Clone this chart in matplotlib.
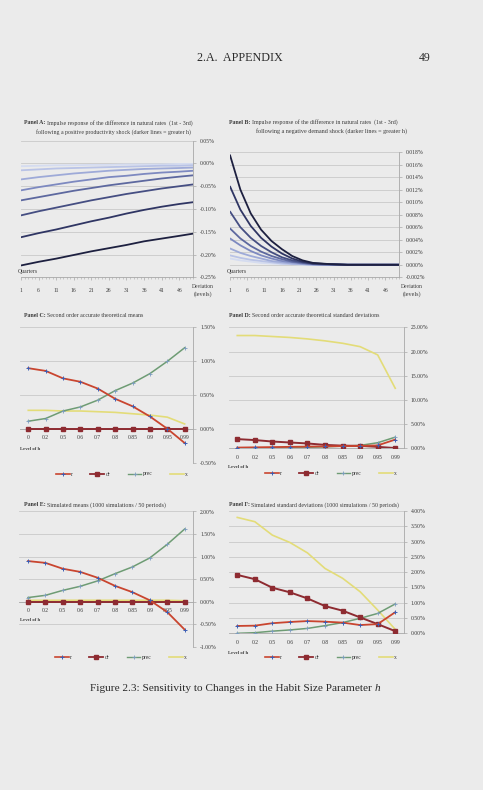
import matplotlib
matplotlib.use('Agg')
import matplotlib.pyplot as plt
from matplotlib.lines import Line2D

# ---------------- data ----------------
A_quarters = [1, 6, 11, 16, 21, 26, 31, 36, 41, 46, 50]
A_h1 = [-0.006, -0.005, -0.004, -0.004, -0.003, -0.003, -0.002, -0.002, -0.002, -0.001, -0.001]
A_h2 = [-0.015, -0.013, -0.011, -0.010, -0.009, -0.008, -0.007, -0.006, -0.005, -0.005, -0.004]
A_h3 = [-0.035, -0.030, -0.026, -0.022, -0.019, -0.016, -0.014, -0.012, -0.011, -0.010, -0.009]
A_h4 = [-0.059, -0.052, -0.046, -0.040, -0.035, -0.030, -0.027, -0.023, -0.020, -0.018, -0.016]
A_h5 = [-0.081, -0.074, -0.067, -0.060, -0.054, -0.048, -0.043, -0.038, -0.033, -0.029, -0.026]
A_h6 = [-0.114, -0.105, -0.097, -0.089, -0.081, -0.074, -0.067, -0.061, -0.055, -0.050, -0.046]
A_h7 = [-0.162, -0.153, -0.145, -0.136, -0.127, -0.119, -0.110, -0.102, -0.095, -0.089, -0.085]
A_h8 = [-0.224, -0.216, -0.209, -0.201, -0.193, -0.186, -0.179, -0.171, -0.165, -0.159, -0.154]

B_quarters = [1, 4, 7, 10, 13, 16, 19, 22, 25, 30, 35, 40, 45, 50]
B_h1 = [0.0010, 0.0007, 0.0005, 0.0003, 0.0002, 0.0001, 0.0001, 0.0000, 0.0, 0.0, 0.0, 0.0, 0.0, 0.0]
B_h2 = [0.0015, 0.0011, 0.0008, 0.0006, 0.0004, 0.0002, 0.0001, 0.0001, 0.0000, 0.0, 0.0, 0.0, 0.0, 0.0]
B_h3 = [0.0026, 0.0019, 0.0014, 0.0010, 0.0006, 0.0004, 0.0002, 0.0001, 0.0000, 0.0, 0.0, 0.0, 0.0, 0.0]
B_h4 = [0.0042, 0.0031, 0.0022, 0.0015, 0.0010, 0.0006, 0.0004, 0.0002, 0.0001, 0.0, 0.0, 0.0, 0.0, 0.0]
B_h5 = [0.0058, 0.0042, 0.0030, 0.0021, 0.0014, 0.0009, 0.0005, 0.0003, 0.0001, 0.0, 0.0, 0.0, 0.0, 0.0]
B_h6 = [0.0085, 0.0060, 0.0043, 0.0030, 0.0020, 0.0012, 0.0007, 0.0004, 0.0002, 0.0001, 0.0, 0.0, 0.0, 0.0]
B_h7 = [0.0125, 0.0088, 0.0062, 0.0043, 0.0029, 0.0018, 0.0010, 0.0005, 0.0002, 0.0001, 0.0, 0.0, 0.0, 0.0]
B_h8 = [0.0175, 0.0120, 0.0082, 0.0056, 0.0038, 0.0025, 0.0014, 0.0007, 0.0003, 0.0001, 0.0, 0.0, 0.0, 0.0]

h_labels = ['0', '0.2', '0.5', '0.6', '0.7', '0.8', '0.85', '0.9', '0.95', '0.99']
series_names = ['r', 'dr', 'prec', 'x']

C_r = [0.89, 0.85, 0.74, 0.69, 0.59, 0.44, 0.33, 0.18, 0.00, -0.21]
C_dr = [0.00, 0.00, 0.00, 0.00, 0.00, 0.00, 0.00, 0.00, 0.00, 0.00]
C_prec = [0.11, 0.15, 0.26, 0.32, 0.42, 0.56, 0.67, 0.81, 0.99, 1.19]
C_x = [0.27, 0.27, 0.26, 0.26, 0.25, 0.24, 0.22, 0.20, 0.17, 0.07]

D_r = [0.15, 0.20, 0.25, 0.30, 0.35, 0.40, 0.45, 0.50, 0.60, 1.80]
D_dr = [1.90, 1.70, 1.40, 1.20, 1.00, 0.70, 0.55, 0.50, 0.30, 0.05]
D_prec = [0.05, 0.08, 0.10, 0.15, 0.20, 0.30, 0.45, 0.60, 1.15, 2.30]
D_x = [23.3, 23.3, 23.1, 22.9, 22.6, 22.2, 21.7, 21.0, 19.3, 12.4]

E_r = [0.90, 0.86, 0.73, 0.66, 0.53, 0.35, 0.21, 0.03, -0.23, -0.62]
E_dr = [0.00, 0.00, 0.00, 0.00, 0.00, 0.00, 0.00, 0.00, 0.00, 0.00]
E_prec = [0.09, 0.14, 0.25, 0.34, 0.46, 0.62, 0.77, 0.97, 1.27, 1.61]
E_x = [0.03, 0.03, 0.03, 0.03, 0.03, 0.03, 0.03, 0.03, 0.03, 0.02]

F_r = [0.24, 0.25, 0.33, 0.37, 0.40, 0.38, 0.35, 0.27, 0.30, 0.69]
F_dr = [1.91, 1.77, 1.49, 1.34, 1.14, 0.89, 0.74, 0.52, 0.30, 0.07]
F_prec = [0.00, 0.02, 0.07, 0.11, 0.16, 0.25, 0.35, 0.49, 0.65, 0.96]
F_x = [3.79, 3.65, 3.21, 2.97, 2.63, 2.12, 1.80, 1.36, 0.76, 0.13]

# ---------------- styling ----------------
W, H = 483, 790
plt.rcParams['font.family'] = ['Liberation Serif', 'DejaVu Serif']
fig = plt.figure(figsize=(W / 100, H / 100), dpi=100)
BG = '#ebebeb'
fig.patch.set_facecolor(BG)
TXT = '#3a3a3a'
GRID = '#c9c9c9'
AXC = '#a8a8a8'
SHADES = ['#d5dcf0', '#b9c3e6', '#9eaad8', '#7d89c0', '#5d689f', '#454e82', '#2f3563', '#1d2040']
R_LINE, R_MK = '#c9452f', '#3d5fb5'
DR_C = '#8e2b31'
PREC_LINE, PREC_MK = '#6e9c74', '#7c9cc0'
X_C = '#e3dc78'

renderer = fig.canvas.get_renderer()


def ax_px(l, t, r, b):
    return fig.add_axes([l / W, 1 - b / H, (r - l) / W, (b - t) / H])


def fit_text(x, y, parts, width, ha='left', base=5.0, color=TXT, gap=0.0):
    objs = [fig.text(0, 0, s, fontsize=base, fontweight=w, color=color,
                     va='center', ha='left') for s, w in parts]
    tot = sum(o.get_window_extent(renderer).width for o in objs) + gap * (len(objs) - 1)
    fs = base * width / tot
    for o in objs:
        o.set_fontsize(fs)
    widths = [o.get_window_extent(renderer).width for o in objs]
    tot = sum(widths) + gap * (len(objs) - 1)
    cur = x if ha == 'left' else (x - tot / 2 if ha == 'center' else x - tot)
    for o, wd in zip(objs, widths):
        o.set_position((cur / W, 1 - y / H))
        cur += wd + gap
    return objs


def style_y(ax, ticks, fmt, ylim):
    ax.set_facecolor('none')
    ax.set_ylim(*ylim)
    ax.set_yticks(ticks)
    ax.set_yticklabels([fmt.format(v) for v in ticks], fontsize=4.1, color=TXT)
    ax.yaxis.tick_right()
    ax.tick_params(axis='y', length=2.5, width=0.5, color=AXC, pad=2.5)
    ax.grid(axis='y', color=GRID, lw=0.6)
    ax.set_axisbelow(True)
    for s in ['top', 'left']:
        ax.spines[s].set_visible(False)
    ax.spines['right'].set_color(AXC)
    ax.spines['right'].set_linewidth(0.6)
    ax.spines['bottom'].set_color(AXC)
    ax.spines['bottom'].set_linewidth(0.6)


def impulse_panel(box, quarters, lines, ticks, fmt, ylim, qlabel_xy, dev_x):
    ax = ax_px(*box)
    style_y(ax, ticks, fmt, ylim)
    for vals, c in zip(lines, SHADES):
        ax.plot(quarters, vals, color=c, lw=1.3, solid_capstyle='round')
    ax.set_xlim(1, 50)
    ax.set_xticks(list(range(1, 50, 5)))
    ax.set_xticklabels([str(q) for q in range(1, 50, 5)], fontsize=4.1, color=TXT)
    ax.set_xticks(list(range(1, 51)), minor=True)
    ax.tick_params(axis='x', which='major', length=2.0, width=0.5, color=AXC, pad=5.5)
    ax.tick_params(axis='x', which='minor', length=1.5, width=0.4, color=AXC)
    fit_text(qlabel_xy[0], qlabel_xy[1], [('Quarters', 'normal')], 20)
    fit_text(dev_x, 286.5, [('Deviation', 'normal')], 22, ha='center')
    fit_text(dev_x, 294.5, [('(levels)', 'normal')], 18, ha='center')
    return ax


def cat_panel(box, data, ticks, fmt, ylim, spine_at_zero, lab_xy, leg_xy):
    ax = ax_px(*box)
    if spine_at_zero:
        ax.spines['bottom'].set_position(('data', 0))
    style_y(ax, ticks, fmt, ylim)
    xs = list(range(len(h_labels)))
    r, dr, prec, x = data
    ax.plot(xs, x, color=X_C, lw=1.2, zorder=2)
    ax.plot(xs, prec, color=PREC_LINE, lw=1.1, marker='+', ms=2.8, mec=PREC_MK, mew=0.6, zorder=3)
    ax.plot(xs, dr, color=DR_C, lw=1.4, marker='s', ms=3.3, mfc=DR_C, mec=DR_C, zorder=4)
    ax.plot(xs, r, color=R_LINE, lw=1.3, marker='+', ms=3.0, mec=R_MK, mew=0.7, zorder=5)
    ax.set_xlim(-0.5, len(h_labels) - 0.5)
    ax.set_xticks(xs)
    ax.set_xticklabels(h_labels, fontsize=4.1, color=TXT)
    ax.tick_params(axis='x', length=0, pad=4.5, labelsize=4.1, labelcolor=TXT)
    fit_text(lab_xy[0], lab_xy[1], [('Level of h', 'bold')], 20)
    handles = [
        Line2D([], [], color=R_LINE, lw=1.2, marker='+', ms=3.0, mec=R_MK, mew=0.7),
        Line2D([], [], color=DR_C, lw=1.3, marker='s', ms=3.0, mfc=DR_C, mec=DR_C),
        Line2D([], [], color=PREC_LINE, lw=1.0, marker='+', ms=2.8, mec=PREC_MK, mew=0.6),
        Line2D([], [], color=X_C, lw=1.2),
    ]
    fig.legend(handles, series_names, loc='center',
               bbox_to_anchor=(leg_xy[0] / W, 1 - leg_xy[1] / H), ncol=4,
               frameon=False, fontsize=4.1, handlelength=2.4, handletextpad=0.3,
               columnspacing=3.0, numpoints=1, labelcolor=TXT)
    return ax


# ---------------- header ----------------
fit_text(240, 58, [('2.A.  APPENDIX', 'normal')], 86, ha='center', color='#2a2a2a')
fit_text(425, 58, [('49', 'normal')], 12, ha='center', color='#2a2a2a')

# ---------------- Panel A ----------------
fit_text(24, 123, [('Panel A:', 'bold'), ('Impulse response of the difference in natural rates  (1st - 3rd)', 'normal')], 167, gap=1.5)
fit_text(36, 132, [('following a positive productivity shock (darker lines = greater h)', 'normal')], 155)
impulse_panel((21, 140.7, 193.3, 277.3), A_quarters,
              [A_h1, A_h2, A_h3, A_h4, A_h5, A_h6, A_h7, A_h8],
              [0.05, 0.0, -0.05, -0.10, -0.15, -0.20, -0.25], '{:.2f}%', (-0.25, 0.05),
              (18, 272), 203)

# ---------------- Panel B ----------------
fit_text(229, 122.5, [('Panel B:', 'bold'), ('Impulse response of the difference in natural rates  (1st - 3rd)', 'normal')], 167, gap=1.5)
fit_text(256, 131.5, [('following a negative demand shock (darker lines = greater h)', 'normal')], 150)
impulse_panel((230, 152, 399.3, 277.3), B_quarters,
              [B_h1, B_h2, B_h3, B_h4, B_h5, B_h6, B_h7, B_h8],
              [0.018, 0.016, 0.014, 0.012, 0.010, 0.008, 0.006, 0.004, 0.002, 0.0, -0.002],
              '{:.3f}%', (-0.002, 0.018), (227, 272), 412)

# ---------------- Panel C ----------------
fit_text(24, 315.5, [('Panel C:', 'bold'), ('Second order accurate theoretical means', 'normal')], 118, gap=1.5)
cat_panel((19.6, 326.7, 193.3, 462.7), (C_r, C_dr, C_prec, C_x),
          [1.5, 1.0, 0.5, 0.0, -0.5], '{:.2f}%', (-0.5, 1.5), True, (20, 449.5), (122, 474))

# ---------------- Panel D ----------------
fit_text(229, 315.5, [('Panel D:', 'bold'), ('Second order accurate theoretical standard deviations', 'normal')], 149, gap=1.5)
cat_panel((228.5, 327.3, 404, 448.3), (D_r, D_dr, D_prec, D_x),
          [25, 20, 15, 10, 5, 0], '{:.2f}%', (0, 25), False, (228, 466.7), (331, 473.5))

# ---------------- Panel E ----------------
fit_text(24, 505, [('Panel E:', 'bold'), ('Simulated means (1000 simulations / 50 periods)', 'normal')], 142, gap=1.5)
cat_panel((19.3, 511.5, 193.3, 646.7), (E_r, E_dr, E_prec, E_x),
          [2.0, 1.5, 1.0, 0.5, 0.0, -0.5, -1.0], '{:.2f}%', (-1.0, 2.0), True, (20, 620), (121, 657.7))

# ---------------- Panel F ----------------
fit_text(229, 505, [('Panel F:', 'bold'), ('Simulated standard deviations (1000 simulations / 50 periods)', 'normal')], 170, gap=1.5)
cat_panel((228.5, 511, 404, 633.3), (F_r, F_dr, F_prec, F_x),
          [4.0, 3.5, 3.0, 2.5, 2.0, 1.5, 1.0, 0.5, 0.0], '{:.2f}%', (0, 4.0), False, (228, 653.5), (331, 657.7))

# ---------------- caption ----------------
cap = fit_text(235, 688.5, [('Figure 2.3: Sensitivity to Changes in the Habit Size Parameter ', 'normal'),
                            ('h', 'normal')], 290, ha='center', color='#2a2a2a')
cap[-1].set_fontstyle('italic')

fig.savefig('out.png', dpi=100, facecolor=BG)
